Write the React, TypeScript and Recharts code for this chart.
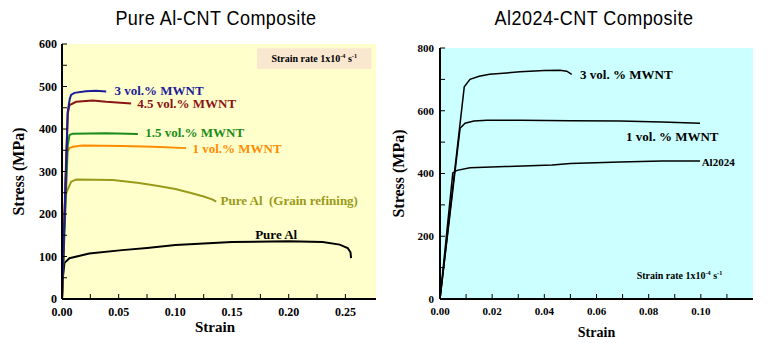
import React from "react";
import { LineChart, Line, XAxis, YAxis, CartesianGrid, ReferenceDot, ReferenceArea } from "recharts";

// ---- Pure Al - CNT composite (left panel) ----
const pureAlStrain = [0, 0.0007, 0.0022, 0.0066, 0.024, 0.053, 0.075, 0.1, 0.15, 0.2, 0.23, 0.245, 0.252, 0.2545, 0.255];
const pureAlStress = [0, 49, 85, 96, 107, 115, 120, 127, 134, 136, 134, 128, 120, 110, 96];

const grainStrain = [0, 0.0022, 0.0037, 0.0081, 0.0125, 0.045, 0.068, 0.085, 0.1, 0.113, 0.125, 0.133, 0.136];
const grainStress = [0, 194, 249, 276, 281, 280, 273, 266, 259, 250, 241, 234, 229];

const mwnt1Strain = [0, 0.0037, 0.0066, 0.0095, 0.018, 0.054, 0.08, 0.1095];
const mwnt1Stress = [0, 343, 355, 358, 361, 360, 358, 355];

const mwnt15Strain = [0, 0.0051, 0.0066, 0.0095, 0.039, 0.0669];
const mwnt15Stress = [0, 362, 386, 389, 390, 388];

const mwnt3Strain = [0, 0.005, 0.0068, 0.008, 0.011, 0.021, 0.03, 0.039];
const mwnt3Stress = [0, 440, 470, 480, 485, 489, 490, 488];

const mwnt45Strain = [0, 0.0051, 0.0066, 0.0125, 0.027, 0.039, 0.061];
const mwnt45Stress = [0, 437, 456, 464, 467, 464, 460];

const leftXTicks = [0, 0.025, 0.05, 0.075, 0.1, 0.125, 0.15, 0.175, 0.2, 0.225, 0.25];
const leftYTicks = [0, 50, 100, 150, 200, 250, 300, 350, 400, 450, 500, 550, 600];

// ---- Al2024 - CNT composite (right panel) ----
const al2024Strain = [0, 0.0049, 0.0065, 0.0115, 0.025, 0.043, 0.05, 0.069, 0.085, 0.0997];
const al2024Stress = [0, 402, 410, 418, 422, 427, 432, 437, 440, 440];

const cnt1Strain = [0, 0.0077, 0.0096, 0.013, 0.018, 0.031, 0.05, 0.069, 0.085, 0.0997];
const cnt1Stress = [0, 544, 560, 567, 570, 570, 568, 567, 564, 560];

const cnt3Strain = [0, 0.0093, 0.0115, 0.015, 0.019, 0.0307, 0.04, 0.046, 0.0486, 0.0505];
const cnt3Stress = [0, 676, 700, 710, 716, 724, 728, 729, 726, 716];

const rightXTicks = [0, 0.01, 0.02, 0.03, 0.04, 0.05, 0.06, 0.07, 0.08, 0.09, 0.1, 0.11];
const rightYTicks = [0, 100, 200, 300, 400, 500, 600, 700, 800];

const SERIF = '"Liberation Serif", "Times New Roman", serif';

const toPoints = (xs: number[], ys: number[]) => xs.map((x, i) => ({ strain: x, stress: ys[i] }));

const frame = { stroke: "#000", strokeWidth: 2 };

const StrainRate = ({ size }: { size: number }) => (props: any) => {
  const vb = props.viewBox || {};
  const x = props.anchor === "center" ? vb.x + vb.width / 2 : vb.x;
  const y = props.anchor === "center" ? vb.y + vb.height / 2 + size * 0.35 : vb.y + size * 0.35;
  return (
    <text x={x} y={y} textAnchor={props.anchor === "center" ? "middle" : "start"} fontFamily={SERIF} fontWeight="bold" fontSize={size} fill="#000">
      Strain rate 1x10
      <tspan dy={-4} fontSize={size * 0.62}>-4</tspan>
      <tspan dy={4}> s</tspan>
      <tspan dy={-4} fontSize={size * 0.62}>-1</tspan>
    </text>
  );
};

function curveLabel(value: string, color: string, size: number) {
  return { value, position: "right" as const, fill: color, fontSize: size, fontWeight: "bold", fontFamily: SERIF };
}

function PureAlChart() {
  const tickStyle = { fill: "#000", fontSize: 12, fontWeight: "bold", fontFamily: SERIF };
  return (
    <LineChart width={388} height={343} margin={{ top: 44, right: 12, bottom: 0, left: 0 }}>
      <CartesianGrid horizontal={false} vertical={false} fill="#FFFFCC" />
      <XAxis
        type="number"
        dataKey="strain"
        domain={[0, 0.277]}
        ticks={leftXTicks}
        interval={0}
        tickFormatter={(v: number) => (Math.round(v * 1000) % 50 === 0 ? v.toFixed(2) : "")}
        height={44}
        tickSize={-5}
        tickMargin={13}
        axisLine={frame}
        tickLine={{ stroke: "#000" }}
        tick={tickStyle}
        label={{ value: "Strain", position: "insideBottom", offset: 11, dx: -4, fill: "#000", fontSize: 15, fontWeight: "bold", fontFamily: SERIF }}
      />
      <XAxis xAxisId="top" orientation="top" type="number" domain={[0, 0.277]} height={0} tick={false} tickLine={false} axisLine={frame} />
      <YAxis
        type="number"
        domain={[0, 600]}
        ticks={leftYTicks}
        interval={0}
        tickFormatter={(v: number) => (v % 100 === 0 ? String(v) : "")}
        width={62}
        tickSize={-5}
        tickMargin={10}
        axisLine={frame}
        tickLine={{ stroke: "#000" }}
        tick={tickStyle}
        label={{ value: "Stress (MPa)", angle: -90, position: "insideLeft", offset: 18, style: { textAnchor: "middle" }, fill: "#000", fontSize: 16, fontWeight: "bold", fontFamily: SERIF }}
      />
      <YAxis yAxisId="right" orientation="right" type="number" domain={[0, 600]} width={0} tick={false} tickLine={false} axisLine={frame} />

      <ReferenceArea x1={0.172} x2={0.273} y1={541} y2={590} fill="#FAE7D0" fillOpacity={1} stroke="none" label={{ content: StrainRate({ size: 10 }), anchor: "center" } as any} />

      <Line data={toPoints(pureAlStrain, pureAlStress)} dataKey="stress" stroke="#000" strokeWidth={2} dot={false} isAnimationActive={false} />
      <Line data={toPoints(grainStrain, grainStress)} dataKey="stress" stroke="#9A9A1A" strokeWidth={2} dot={false} isAnimationActive={false} />
      <Line data={toPoints(mwnt1Strain, mwnt1Stress)} dataKey="stress" stroke="#FF8C00" strokeWidth={2} dot={false} isAnimationActive={false} />
      <Line data={toPoints(mwnt15Strain, mwnt15Stress)} dataKey="stress" stroke="#1A8C1A" strokeWidth={2} dot={false} isAnimationActive={false} />
      <Line data={toPoints(mwnt45Strain, mwnt45Stress)} dataKey="stress" stroke="#8B1414" strokeWidth={2} dot={false} isAnimationActive={false} />
      <Line data={toPoints(mwnt3Strain, mwnt3Stress)} dataKey="stress" stroke="#1C1C96" strokeWidth={2} dot={false} isAnimationActive={false} />

      <ReferenceDot x={0.0419} y={492} r={0} stroke="none" label={curveLabel("3 vol.% MWNT", "#1C1C96", 13)} />
      <ReferenceDot x={0.0619} y={461} r={0} stroke="none" label={curveLabel("4.5 vol.% MWNT", "#8B1414", 13)} />
      <ReferenceDot x={0.069} y={391} r={0} stroke="none" label={curveLabel("1.5 vol.% MWNT", "#1A8C1A", 13)} />
      <ReferenceDot x={0.1107} y={355} r={0} stroke="none" label={curveLabel("1 vol.% MWNT", "#FF8C00", 13)} />
      <ReferenceDot x={0.1354} y={233} r={0} stroke="none" label={curveLabel("Pure Al\u00a0\u00a0(Grain refining)", "#9A9A1A", 13)} />
      <ReferenceDot x={0.166} y={153} r={0} stroke="none" label={curveLabel("Pure Al", "#000", 13)} />
    </LineChart>
  );
}

function Al2024Chart() {
  const tickStyle = { fill: "#000", fontSize: 11, fontWeight: "bold", fontFamily: SERIF };
  return (
    <LineChart width={388} height={343} margin={{ top: 48, right: 23, bottom: 0, left: 0 }}>
      <CartesianGrid horizontal={false} vertical={false} fill="#CCFFFF" />
      <XAxis
        type="number"
        dataKey="strain"
        domain={[0, 0.12]}
        ticks={rightXTicks}
        interval={0}
        tickFormatter={(v: number) => (Math.round(v * 100) % 2 === 0 ? v.toFixed(2) : "")}
        height={44}
        tickSize={-5}
        tickMargin={13}
        axisLine={frame}
        tickLine={{ stroke: "#000" }}
        tick={tickStyle}
        label={{ value: "Strain", position: "insideBottom", offset: 6, fill: "#000", fontSize: 14, fontWeight: "bold", fontFamily: SERIF }}
      />
      <XAxis xAxisId="top" orientation="top" type="number" domain={[0, 0.12]} height={0} tick={false} tickLine={false} axisLine={frame} />
      <YAxis
        type="number"
        domain={[0, 800]}
        ticks={rightYTicks}
        interval={0}
        tickFormatter={(v: number) => (v % 200 === 0 ? String(v) : "")}
        width={52}
        tickSize={-5}
        tickMargin={11}
        axisLine={frame}
        tickLine={{ stroke: "#000" }}
        tick={tickStyle}
        label={{ value: "Stress (MPa)", angle: -90, position: "insideLeft", offset: 10, style: { textAnchor: "middle" }, fill: "#000", fontSize: 16, fontWeight: "bold", fontFamily: SERIF }}
      />
      <YAxis yAxisId="right" orientation="right" type="number" domain={[0, 800]} width={0} tick={false} tickLine={false} axisLine={frame} />

      <Line data={toPoints(al2024Strain, al2024Stress)} dataKey="stress" stroke="#000" strokeWidth={1.5} dot={false} isAnimationActive={false} />
      <Line data={toPoints(cnt1Strain, cnt1Stress)} dataKey="stress" stroke="#000" strokeWidth={1.5} dot={false} isAnimationActive={false} />
      <Line data={toPoints(cnt3Strain, cnt3Stress)} dataKey="stress" stroke="#000" strokeWidth={1.5} dot={false} isAnimationActive={false} />

      <ReferenceDot x={0.0518} y={717} r={0} stroke="none" label={curveLabel("3 vol. % MWNT", "#000", 13)} />
      <ReferenceDot x={0.0694} y={519} r={0} stroke="none" label={curveLabel("1 vol. % MWNT", "#000", 13)} />
      <ReferenceDot x={0.0984} y={436} r={0} stroke="none" label={curveLabel("Al2024", "#000", 11)} />
      <ReferenceDot x={0.0754} y={76} r={0} stroke="none" label={{ content: StrainRate({ size: 10 }) } as any} />
    </LineChart>
  );
}

const titleStyle = (center: number): React.CSSProperties => ({
  position: "absolute",
  left: center - 150,
  top: 8,
  width: 300,
  textAlign: "center",
  fontFamily: '"Liberation Sans", Arial, sans-serif',
  fontSize: 20,
  lineHeight: "20px",
  letterSpacing: 0.5,
  color: "#000",
  transform: "scaleX(0.9)",
  transformOrigin: "50% 50%",
});

export default function App() {
  return (
    <div style={{ position: "absolute", left: 0, top: 0, width: 776, height: 343, background: "#fff", overflow: "hidden" }}>
      <div style={{ position: "absolute", left: 0, top: 0 }}>
        <PureAlChart />
      </div>
      <div style={{ position: "absolute", left: 388, top: 0 }}>
        <Al2024Chart />
      </div>
      <div style={titleStyle(216)}>Pure Al-CNT Composite</div>
      <div style={titleStyle(594)}>Al2024-CNT Composite</div>
    </div>
  );
}
